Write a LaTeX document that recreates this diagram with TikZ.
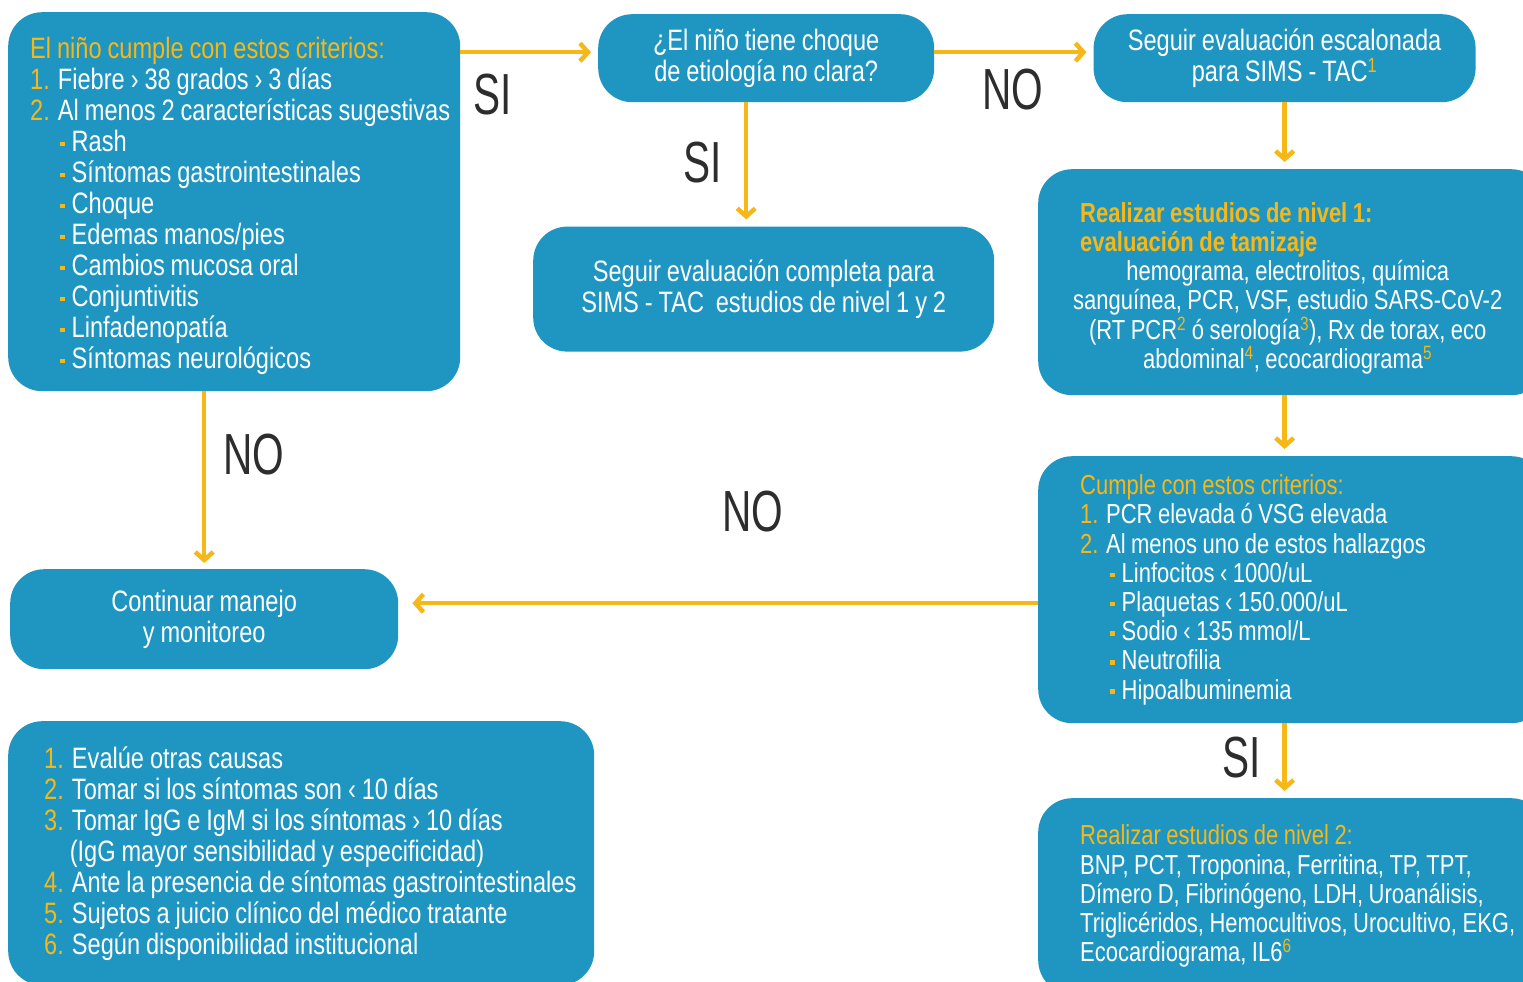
\documentclass[tikz,border=0pt]{standalone}
\usepackage{fontspec}
\setmainfont{Liberation Sans}[FakeStretch=0.8, WordSpace=0.9]
\newfontfamily\rotfont{Liberation Sans}[FakeStretch=0.7]
\usepackage{tikz}
\usetikzlibrary{positioning}
\usetikzlibrary{calc,arrows.meta}
\definecolor{azul}{RGB}{31,150,194}
\definecolor{oro}{RGB}{246,183,24}
\definecolor{gris}{RGB}{45,45,45}
\newcommand{\numo}[1]{{\color{oro}#1}}
\newcommand{\punto}{\hspace*{30pt}{\color{oro}\rule[0.35ex]{4.5pt}{4.5pt}}\hspace{7pt}}
\newcommand{\supo}[1]{\textsuperscript{\color{oro}#1}}

\begin{document}
\begin{tikzpicture}[x=1pt, y=-1pt,
    caja/.style={fill=azul, rounded corners=34pt, text=white, inner sep=0pt,
      font=\fontsize{29.5}{31}\selectfont,
      execute at begin node={\spaceskip=0pt\xspaceskip=0pt\hyphenpenalty=10000}},
    lista/.style={caja, align=left, anchor=north west, text width=#1,
      execute at begin node={\leftskip=\sangria}},
    derecha/.style={font=\fontsize{27.5}{29.2}\selectfont},
    flecha/.style={draw=oro, line width=4.5pt, -{Straight Barb[length=8pt,width=18pt]}, shorten >=7pt},
    rotulo/.style={text=gris, font=\rotfont\fontsize{58}{58}\selectfont}]
      \clip (0,0) rectangle (1523,982);
      \fill[white] (0,0) rectangle (1523,982);

      % columna izquierda
      \def\sangria{22pt}
      \node(crit) [lista=452pt, minimum height=379pt] at (8,12) {%
        \numo{El niño cumple con estos criterios:}\rule{0pt}{30pt}\\
        \numo{1.} Fiebre › 38 grados › 3 días\\
        \numo{2.} Al menos 2 características sugestivas\\
        \punto Rash\\
        \punto Síntomas gastrointestinales\\
        \punto Choque\\
        \punto Edemas manos/pies\\
        \punto Cambios mucosa oral\\
        \punto Conjuntivitis\\
        \punto Linfadenopatía\\
        \punto Síntomas neurológicos};
      \node(cont) [caja, align=center, anchor=north west, minimum width=388pt, minimum height=100pt] at (10,569) {Continuar manejo\\y monitoreo};
      \def\sangria{36pt}
      \node(notas) [lista=586pt, minimum height=264pt] at (8,721) {%
        \numo{1.} Evalúe otras causas\\
        \numo{2.} Tomar si los síntomas son ‹ 10 días\\
        \numo{3.} Tomar IgG e IgM si los síntomas › 10 días\\
        \hphantom{3.} (IgG mayor sensibilidad y especificidad)\\
        \numo{4.} Ante la presencia de síntomas gastrointestinales\\
        \numo{5.} Sujetos a juicio clínico del médico tratante\\
        \numo{6.} Según disponibilidad institucional};

      % centro
      \node(quest) [caja, align=center, anchor=north west, minimum width=336pt, minimum height=88pt] at (598,14) {¿El niño tiene choque\\de etiología no clara?};
      \node(escal) [caja, align=center, minimum width=382pt, minimum height=88pt, right=159pt of quest] {Seguir evaluación escalonada\\para SIMS - TAC\supo{1}};
      \node(full) [caja, align=center, minimum width=461pt, minimum height=125pt, below=124pt of quest, xshift=-2.5pt] {Seguir evaluación completa para\\SIMS - TAC\ \ estudios de nivel 1 y 2};

      % columna derecha
      \def\sangria{42pt}
      \node(niv1) [caja, derecha, align=center, anchor=north west, text width=507pt, minimum height=226pt,
        execute at begin node={\leftskip=0pt plus 1fil\rightskip=0pt plus 1fil\parfillskip=0pt}] at (1038,169) {%
        \makebox[\linewidth][l]{\hspace*{\sangria}\bfseries\color{oro}Realizar estudios de nivel 1:\rule{0pt}{32pt}}\\
        \makebox[\linewidth][l]{\hspace*{\sangria}\bfseries\color{oro}evaluación de tamizaje}\\
        \hspace*{-8pt}hemograma, electrolitos, química\\
        \hspace*{-8pt}sanguínea, PCR, VSF, estudio SARS-CoV-2\\
        \hspace*{-8pt}(RT PCR\supo{2} ó serología\supo{3}), Rx de torax, eco\\
        \hspace*{-8pt}abdominal\supo{4}, ecocardiograma\supo{5}};
      \node(cumple) [lista=507pt, derecha, minimum height=267pt] at (1038,456) {%
        \numo{Cumple con estos criterios:}\\
        \numo{1.} PCR elevada ó VSG elevada\\
        \numo{2.} Al menos uno de estos hallazgos\\
        \punto Linfocitos ‹ 1000/uL\\
        \punto Plaquetas ‹ 150.000/uL\\
        \punto Sodio ‹ 135 mmol/L\\
        \punto Neutrofilia\\
        \punto Hipoalbuminemia};
      \node(niv2) [lista=507pt, derecha, minimum height=196pt] at (1038,798) {%
        \numo{Realizar estudios de nivel 2:}\\
        BNP, PCT, Troponina, Ferritina, TP, TPT,\\
        Dímero D, Fibrinógeno, LDH, Uroanálisis,\\
        Triglicéridos, Hemocultivos, Urocultivo, EKG,\\
        Ecocardiograma, IL6\supo{6}};

      % rotulos
      \node(si1) [rotulo] at (493,95) {SI};
      \node(no1) [rotulo] at (1013,90) {NO};
      \node(si2) [rotulo] at (703,163) {SI};
      \node(no2) [rotulo] at (254,455) {NO};
      \node(no3) [rotulo] at (753,512) {NO};
      \node(si3) [rotulo] at (1242,758) {SI};

      % flechas
      \draw[flecha] ($(quest.west -| crit.east)+(0,-6)$) -- ($(quest.west)+(0,-6)$);
      \draw[flecha] ($(quest.east)+(0,-6)$) -- ($(escal.west)+(0,-6)$);
      \draw[flecha] ($(quest.south)+(-20,0)$) -- ($(full.north)+(-17.5,0)$);
      \draw[flecha] (escal.south) -- (escal.south |- niv1.north);
      \draw[flecha] (escal.south |- niv1.south) -- (escal.south |- cumple.north);
      \draw[flecha] (escal.south |- cumple.south) -- (escal.south |- niv2.north);
      \draw[flecha, shorten >=14pt] ($(cumple.west)+(0,13.5)$) -- ($(cumple.west -| cont.east)+(0,13.5)$);
      \draw[flecha, shorten >=6pt] (cont.north |- crit.south) -- (cont.north);
    \end{tikzpicture}
\end{document}
